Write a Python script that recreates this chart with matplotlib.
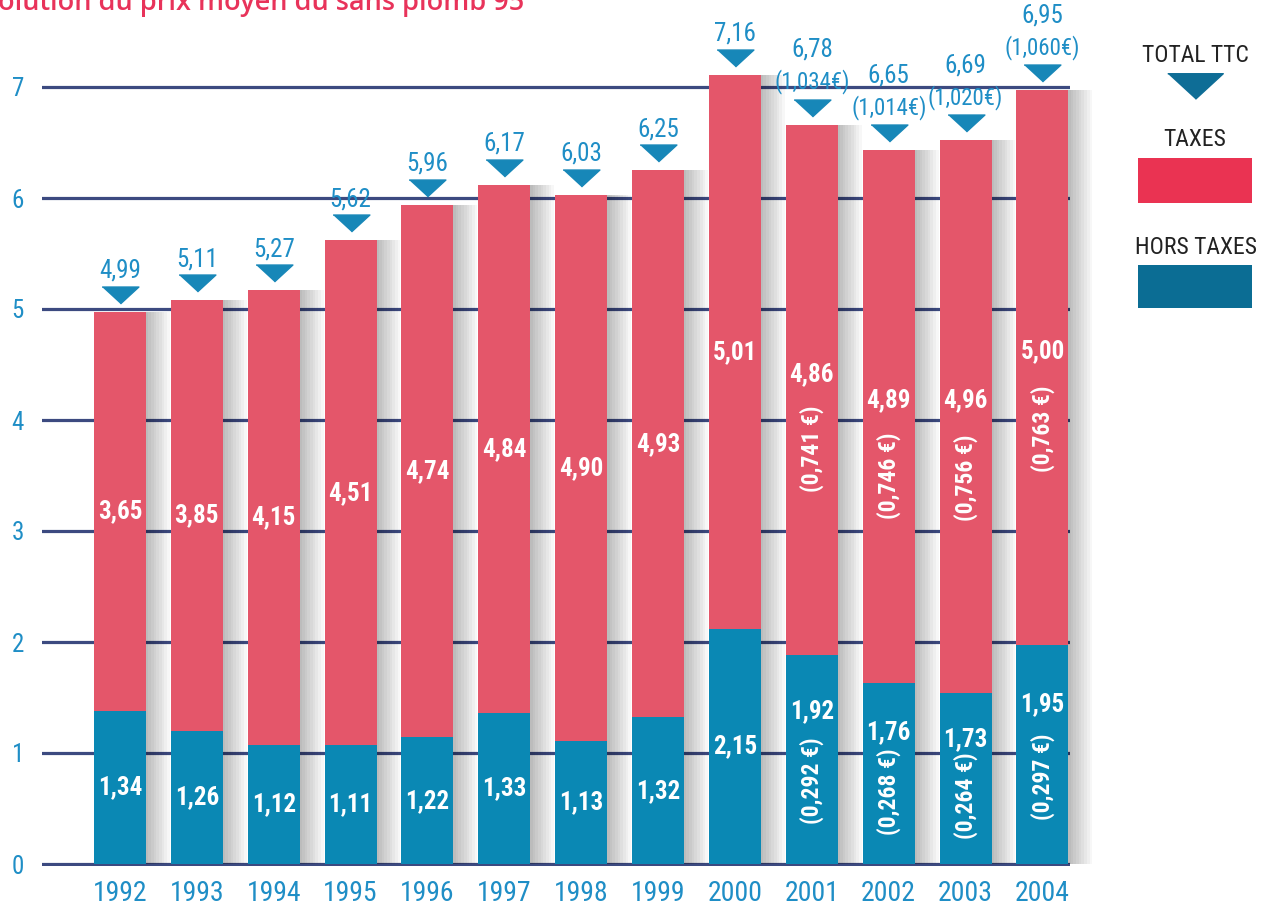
import matplotlib
matplotlib.use('Agg')
from matplotlib import pyplot as plt
from matplotlib.patches import Rectangle
from matplotlib import transforms
import numpy as np

plt.rcParams['font.family'] = ['Roboto Condensed', 'DejaVu Sans']

years = ['1992', '1993', '1994', '1995', '1996', '1997', '1998',
         '1999', '2000', '2001', '2002', '2003', '2004']
# heights as drawn in the picture (not always equal to the printed values)
ht_drawn = [1.38, 1.20, 1.07, 1.07, 1.14, 1.36, 1.11, 1.32, 2.12, 1.88, 1.63, 1.54, 1.97]
ttc_drawn = [4.975, 5.08, 5.17, 5.62, 5.94, 6.12, 6.03, 6.25, 7.11, 6.66, 6.43, 6.52, 6.97]
# printed values
ht_labels = ['1,34', '1,26', '1,12', '1,11', '1,22', '1,33', '1,13', '1,32', '2,15',
             '1,92', '1,76', '1,73', '1,95']
tax_labels = ['3,65', '3,85', '4,15', '4,51', '4,74', '4,84', '4,90', '4,93', '5,01',
              '4,86', '4,89', '4,96', '5,00']
ttc_labels = ['4,99', '5,11', '5,27', '5,62', '5,96', '6,17', '6,03', '6,25', '7,16',
              '6,78', '6,65', '6,69', '6,95']
ht_euro = ['', '', '', '', '', '', '', '', '', '(0,292 €)', '(0,268 €)', '(0,264 €)', '(0,297 €)']
tax_euro = ['', '', '', '', '', '', '', '', '', '(0,741 €)', '(0,746 €)', '(0,756 €)', '(0,763 €)']
ttc_euro = ['', '', '', '', '', '', '', '', '', '(1,034€)', '(1,014€)', '(1,020€)', '(1,060€)']

RED = '#e4566a'
BLUE = '#0a88b4'
TRI = '#1787b8'
LBL = '#1f8ec6'
GRID = '#3c4a80'

W, H = 1263, 907
fig = plt.figure(figsize=(W / 100, H / 100), dpi=100)
fig.patch.set_facecolor('white')

# axes placed so that y=0 sits at px 864 and y=7 at px 87
y0, y7 = 864, 87
upx = (y0 - y7) / 7.0
ylo, yhi = -0.02, 7.02
x_left, x_right = 42, 1070
xc0, dx = 120, 76.87
ax = fig.add_axes([x_left / W, 1 - (y0 + 0.02 * upx) / H,
                   (x_right - x_left) / W, (yhi - ylo) * upx / H])
ax.set_xlim((x_left - xc0) / dx, (x_right - xc0) / dx)
ax.set_ylim(ylo, yhi)

x = np.arange(len(years))
ht = np.array(ht_drawn)
ttc = np.array(ttc_drawn)
tax = ttc - ht
bw = 0.676

# grid
ax.set_yticks(range(8))
ax.grid(axis='y', color=GRID, lw=2.3, zorder=0)
ax.set_axisbelow(True)
for s in ax.spines.values():
    s.set_visible(False)
ax.tick_params(axis='both', length=0)
ax.tick_params(axis='y', pad=13, labelsize=18, labelcolor=LBL)
ax.set_xticks(x, years)
ax.tick_params(axis='x', pad=10, labelsize=20, labelcolor=LBL)

# soft drop shadow, mostly to the right of each bar
for k in range(9):
    ax.bar(x - bw / 2 + 0.03, ttc, width=bw + 0.035 * k, align='edge', color='k',
           alpha=0.032, zorder=1, clip_on=False, linewidth=0)

ax.bar(x, ht, width=bw, color=BLUE, zorder=2, linewidth=0, clip_on=False)
ax.bar(x, tax, bottom=ht, width=bw, color=RED, zorder=2, linewidth=0, clip_on=False)

# total markers
tri = [(-1, 0.46), (1, 0.46), (0, -0.46)]
mtrans = transforms.offset_copy(ax.transData, fig=fig, x=0, y=17, units='dots')
ax.plot(x, ttc, linestyle='none', marker=tri, markersize=26.5, color=TRI,
        transform=mtrans, clip_on=False, zorder=3)

pt = 0.72  # points per pixel at 100 dpi
for i in range(len(years)):
    if ttc_euro[i]:
        ax.annotate(ttc_euro[i], (x[i], ttc[i]), xytext=(0, 43 * pt),
                    textcoords='offset points', ha='center', va='center',
                    fontsize=16.5, color=LBL, annotation_clip=False)
        ax.annotate(ttc_labels[i], (x[i], ttc[i]), xytext=(0, 75 * pt),
                    textcoords='offset points', ha='center', va='center',
                    fontsize=18, color=LBL, annotation_clip=False)
        # HT segment
        ax.text(x[i], ht[i] * 0.73, ht_labels[i], ha='center', va='center',
                color='white', fontsize=18, fontweight='bold', zorder=4)
        ax.text(x[i], ht[i] * 0.40, ht_euro[i], ha='center', va='center',
                rotation=90, color='white', fontsize=17, fontweight='bold', zorder=4)
        # taxes segment
        ax.text(x[i], ht[i] + tax[i] * 0.53, tax_labels[i], ha='center', va='center',
                color='white', fontsize=18, fontweight='bold', zorder=4)
        ax.text(x[i], ht[i] + tax[i] * 0.39, tax_euro[i], ha='center', va='center',
                rotation=90, color='white', fontsize=17, fontweight='bold', zorder=4)
    else:
        ax.annotate(ttc_labels[i], (x[i], ttc[i]), xytext=(0, 41 * pt),
                    textcoords='offset points', ha='center', va='center',
                    fontsize=18, color=LBL, annotation_clip=False)
        ax.text(x[i], ht[i] / 2, ht_labels[i], ha='center', va='center',
                color='white', fontsize=18, fontweight='bold', zorder=4)
        ax.text(x[i], ht[i] + tax[i] / 2, tax_labels[i], ha='center', va='center',
                color='white', fontsize=18, fontweight='bold', zorder=4)

# legend drawn in a pixel-coordinate axes
lax = fig.add_axes([1120 / W, 1 - 330 / H, 143 / W, 310 / H])
lax.set_xlim(1120, 1263)
lax.set_ylim(330, 20)
lax.axis('off')
lax.text(1195, 55, 'TOTAL TTC', ha='center', va='center', fontsize=17, color='#222222')
lax.plot([1195], [86], linestyle='none', marker=tri, markersize=40, color='#0e6d96')
lax.text(1195, 140, 'TAXES', ha='center', va='center', fontsize=17, color='#222222')
lax.add_patch(Rectangle((1138, 158), 114, 45, color='#ea3352', lw=0))
lax.text(1196, 248, 'HORS TAXES', ha='center', va='center', fontsize=17, color='#222222')
lax.add_patch(Rectangle((1138, 265), 114, 43, color='#0b6d94', lw=0))

# title, cut by the top edge as in the source
fig.text(-2 / W, 1 - 10 / H, 'olution du prix moyen du sans plomb 95', ha='left',
         va='baseline', fontsize=19.5, fontweight='semibold', color='#e8335a',
         family=['Open Sans', 'DejaVu Sans'])

plt.savefig('out.png', dpi=100)
